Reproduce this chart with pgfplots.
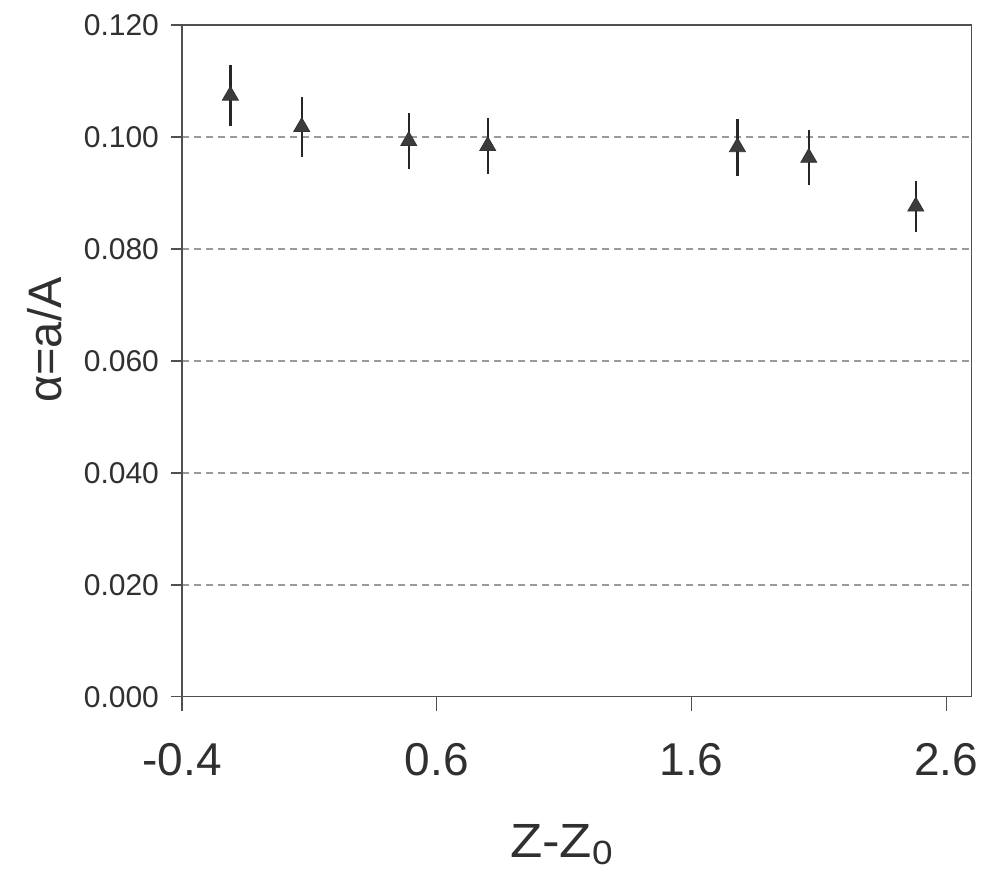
\documentclass[border=0pt]{standalone}
\usepackage{fontspec}
\setmainfont{Liberation Sans}
\newfontfamily\xlabfont[FakeStretch=1.1]{Liberation Sans}
\usepackage{pgfplots}
\pgfplotsset{compat=1.18}
\definecolor{axisgray}{HTML}{505050}
\definecolor{gridgray}{HTML}{9A9A9A}
\definecolor{markgray}{HTML}{3C3C3C}
\definecolor{txtgray}{HTML}{303030}
\begin{document}
\begin{tikzpicture}
\begin{axis}[
  scale only axis,
  width=395pt, height=336pt,
  xmin=-0.4, xmax=2.7,
  ymin=0, ymax=0.12,
  xtick={-0.4,0.6,1.6,2.6},
  ytick={0,0.02,0.04,0.06,0.08,0.1,0.12},
  tick pos=left,
  tick align=outside,
  major tick length=5.5pt,
  xtick style={/pgfplots/major tick length=7pt},
  minor tick num=0,
  axis line style={axisgray, line width=0.6pt},
  every tick/.style={axisgray, line width=0.6pt},
  ymajorgrids,
  grid style={gridgray, dash pattern=on 3.5pt off 2.5pt, line width=0.6pt},
  /pgf/number format/assume math mode=true,
  yticklabel style={font=\fontsize{15}{17}\selectfont, text=txtgray, xshift=-2.5pt, /pgf/number format/.cd, fixed, fixed zerofill, precision=3},
  xticklabel style={font=\fontsize{23}{27}\selectfont, text=txtgray, yshift=-14pt, /pgf/number format/.cd, fixed, fixed zerofill, precision=1},
  scaled y ticks=false,
  xlabel={\xlabfont Z-Z\textsubscript{0}},
  xlabel style={font=\fontsize{24}{28}\selectfont, text=txtgray, at={(axis description cs:0.481,-0.22)}, anchor=center},
  ylabel={α=a/A},
  ylabel style={font=\fontsize{23.5}{27}\selectfont, text=txtgray, at={(axis description cs:-0.1734,0.531)}, anchor=center},
  clip=false,
]
\addplot+[
  only marks,
  mark=triangle*,
  mark size=4.6pt,
  mark options={fill=markgray, draw=black!80, line width=0.4pt},
  error bars/.cd,
    y dir=both, y explicit,
    error mark=none,
    error bar style={black!85, line width=1.2pt},
] table[x=x, y=y, y error=e] {
x y e
-0.21 0.1074 0.0055
0.07 0.1018 0.0054
0.49 0.0993 0.0050
0.80 0.0984 0.0050
1.78 0.0982 0.0051
2.06 0.0963 0.0049
2.48 0.0876 0.0046
};
\coordinate (bl) at (rel axis cs:-0.2304,-0.2634);
\coordinate (tr) at (rel axis cs:1.0165,1.0372);
\end{axis}
\path (bl) rectangle (tr);
\end{tikzpicture}
\end{document}
